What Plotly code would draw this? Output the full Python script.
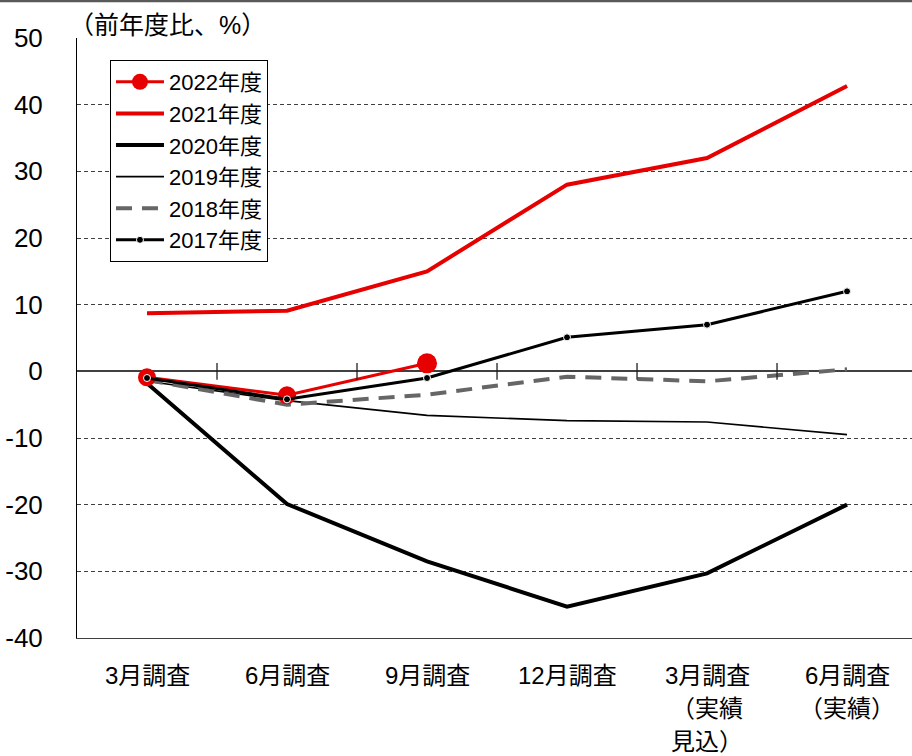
import plotly.graph_objects as go

categories = ["3月調査", "6月調査", "9月調査", "12月調査", "3月調査", "6月調査"]
cat_label_lines = [["3月調査"], ["6月調査"], ["9月調査"], ["12月調査"],
                   ["3月調査", "（実績", "見込）"], ["6月調査", "（実績）"]]

fy2022 = [-0.9, -3.6, 1.2]
fy2021 = [8.7, 9.1, 15.0, 28.0, 32.0, 42.8]
fy2020 = [-1.8, -19.9, -28.5, -35.3, -30.3, -20.0]
fy2019 = [-1.5, -4.4, -6.6, -7.4, -7.6, -9.5]
fy2018 = [-1.3, -5.0, -3.5, -0.8, -1.5, 0.3]
fy2017 = [-1.0, -4.2, -1.0, 5.1, 7.0, 12.0]

y_ticks = [-40, -30, -20, -10, 0, 10, 20, 30, 40, 50]
y_tick_text = ["-40", "-30", "-20", "-10", "0", "10", "20", "30", "40", "50"]

RED = "#E60000"
FONT = "Arial, Liberation Sans, Noto Sans CJK JP"
xs = list(range(len(categories)))

fig = go.Figure()
fig.add_trace(go.Scatter(x=xs, y=fy2020, name="2020年度", mode="lines",
                         line=dict(color="black", width=4), legendrank=3))
fig.add_trace(go.Scatter(x=xs, y=fy2019, name="2019年度", mode="lines",
                         line=dict(color="black", width=1.6), legendrank=4))
fig.add_trace(go.Scatter(x=xs, y=fy2018, name="2018年度", mode="lines",
                         line=dict(color="#666666", width=4, dash="16px,10px"), legendrank=5))
fig.add_trace(go.Scatter(x=xs, y=fy2021, name="2021年度", mode="lines",
                         line=dict(color=RED, width=4), legendrank=2))
fig.add_trace(go.Scatter(x=xs[:len(fy2022)], y=fy2022, name="2022年度", mode="lines+markers",
                         line=dict(color=RED, width=3), opacity=1,
                         marker=dict(color=RED, size=[18, 18, 20], opacity=1,
                                     line=dict(width=0)),
                         legendrank=1))
fig.add_trace(go.Scatter(x=xs, y=fy2017, name="2017年度", mode="lines+markers",
                         line=dict(color="black", width=3),
                         marker=dict(color="black", size=7, line=dict(color="white", width=1)),
                         legendrank=6))

# category boundary tick marks on the zero line
shapes = []
for b in range(1, len(categories)):
    shapes.append(dict(type="line", xref="x", yref="y", x0=b - 0.5, x1=b - 0.5,
                       y0=-1.25, y1=1.25, line=dict(color="#202020", width=1.3)))
# top frame strip
shapes.append(dict(type="rect", xref="paper", yref="paper", x0=-0.1, x1=1.01,
                   y0=1.0595, y1=1.07, fillcolor="#595959", line=dict(width=0)))

annotations = [dict(text="（前年度比、%）", xref="paper", yref="paper", x=-0.012, y=1.0,
                    xanchor="left", yanchor="bottom", yshift=-3, showarrow=False,
                    font=dict(size=25, color="black", family=FONT))]
for i, lines in enumerate(cat_label_lines):
    for j, t in enumerate(lines):
        annotations.append(dict(text=t, xref="x", yref="paper", x=i, y=0,
                                xanchor="center", yanchor="top", yshift=-22 - 33 * j,
                                showarrow=False,
                                font=dict(size=24, color="black", family=FONT)))

fig.update_layout(
    width=912, height=756,
    margin=dict(l=77, r=0, t=38, b=118),
    paper_bgcolor="white", plot_bgcolor="white",
    font=dict(family=FONT, color="black"),
    showlegend=True,
    legend=dict(x=0.0395, y=0.9633, xanchor="left", yanchor="top",
                bordercolor="black", borderwidth=1, bgcolor="white",
                font=dict(size=22, color="black", family=FONT),
                itemwidth=48, tracegroupgap=0),
    xaxis=dict(range=[-0.5, 5.464], tickvals=xs, ticktext=[""] * len(xs),
               showgrid=False, zeroline=False, showline=True, linecolor="#404040",
               linewidth=1, ticks="", fixedrange=True),
    yaxis=dict(range=[-40, 50], tickvals=y_ticks, ticktext=y_tick_text,
               showgrid=True, gridcolor="#404040",
               gridwidth=1, griddash="4px,3px", zeroline=True, zerolinecolor="#404040",
               zerolinewidth=1.5, showline=True, linecolor="black", linewidth=1,
               ticks="", ticklabelstandoff=28,
               tickfont=dict(size=26, color="black", family=FONT)),
    shapes=shapes, annotations=annotations,
)

fig.write_html("out.html")
